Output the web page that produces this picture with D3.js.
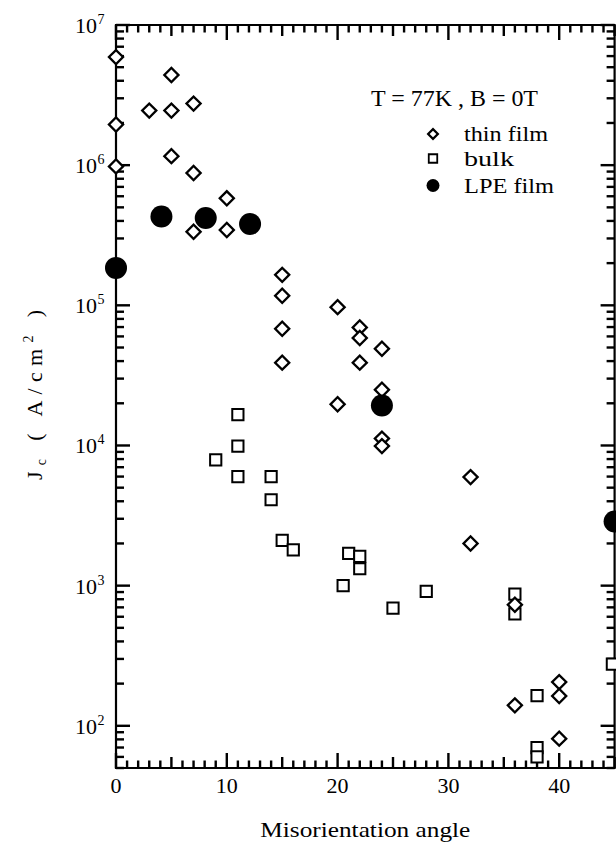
<!DOCTYPE html>
<html><head><meta charset="utf-8">
<script src="https://cdn.jsdelivr.net/npm/d3@7"></script>
<style>
html,body{margin:0;padding:0;background:#fff;}
svg{display:block;}
</style></head>
<body>
<script>
// ---- data (misorientation angle in degrees, Jc in A/cm^2) ----
const thinFilmAngle = [0, 0, 0, 3, 5, 5, 7, 5, 7, 7, 10, 10, 15, 15, 15, 15, 20, 22, 22, 22, 24, 24, 20, 24, 24, 32, 32, 36, 36, 40, 40, 40];
const thinFilmJc    = [5.9e6, 1.95e6, 9.8e5, 2.45e6, 4.4e6, 2.45e6, 2.75e6, 1.16e6, 8.8e5, 3.35e5, 5.8e5, 3.45e5, 1.65e5, 1.17e5, 6.8e4, 3.9e4, 9.7e4, 6.95e4, 5.85e4, 3.9e4, 4.9e4, 2.5e4, 1.97e4, 1.12e4, 9.9e3, 5.95e3, 2.0e3, 7.3e2, 1.4e2, 2.05e2, 1.63e2, 8.1e1];
const bulkAngle = [11, 11, 9, 11, 14, 14, 15, 16, 21, 22, 22, 20.5, 25, 28, 36, 36, 38, 38, 38, 44.8];
const bulkJc    = [1.66e4, 9.9e3, 7.9e3, 6.0e3, 6.0e3, 4.1e3, 2.1e3, 1.8e3, 1.7e3, 1.62e3, 1.32e3, 1.0e3, 6.9e2, 9.1e2, 8.7e2, 6.3e2, 1.64e2, 7.0e1, 6.0e1, 2.75e2];
const lpeAngle = [0, 4.1, 8.1, 12.1, 24, 45];
const lpeJc    = [1.85e5, 4.3e5, 4.2e5, 3.8e5, 1.93e4, 2.87e3];
const xTickValues = [0, 10, 20, 30, 40];
const yDecades = [2, 3, 4, 5, 6, 7];
const legendLabels = ["thin film", "bulk", "LPE film"];
const conditionText = "T = 77K , B = 0T";
const xTitle = "Misorientation angle";

const FONT = "'Liberation Serif', 'Times New Roman', Times, serif";
const W = 616, H = 845;
const L = 116, R = 614.6, T = 25, B = 768;
const svg = d3.select("body").append("svg").attr("width", W).attr("height", H)
  .attr("font-family", FONT);

const x = d3.scaleLinear().domain([0, 45]).range([L, R]);
const y = d3.scaleLog().domain([50, 1e7]).range([B, T]);

// frame
const fp = d3.path();
fp.moveTo(L, T); fp.lineTo(R, T); fp.lineTo(R, B); fp.lineTo(L, B); fp.closePath();
svg.append("path").attr("d", fp.toString()).style("fill", "none")
  .attr("stroke", "#000").attr("stroke-width", 2.2);

// tick sets with lengths
const xTicks = d3.range(0, 46, 1).map(v => ({v, len: v % 10 === 0 ? 15 : (v % 5 === 0 ? 11 : 7.5)}));
const yTicks = [];
for (let e = 1; e <= 7; e++) for (let m = 1; m <= 9; m++) {
  const v = m * Math.pow(10, e);
  if (v >= 50 && v <= 1e7) yTicks.push({v, len: m === 1 ? 14 : 8});
}

// ticks as small filled rectangles, inward on all four sides
const tw = 2.4;
const tg = svg.append("g");
tg.selectAll("rect.xb").data(xTicks).join("rect").attr("class", "xb")
  .attr("x", d => x(d.v) - tw / 2).attr("y", d => B - d.len).attr("width", tw).attr("height", d => d.len)
  .style("fill", "#000");
tg.selectAll("rect.xt").data(xTicks).join("rect").attr("class", "xt")
  .attr("x", d => x(d.v) - tw / 2).attr("y", T).attr("width", tw).attr("height", d => d.len)
  .style("fill", "#000");
tg.selectAll("rect.yl").data(yTicks).join("rect").attr("class", "yl")
  .attr("x", L).attr("y", d => y(d.v) - tw / 2).attr("width", d => d.len).attr("height", tw)
  .style("fill", "#000");
tg.selectAll("rect.yr").data(yTicks).join("rect").attr("class", "yr")
  .attr("x", d => R - d.len).attr("y", d => y(d.v) - tw / 2).attr("width", d => d.len).attr("height", tw)
  .style("fill", "#000");

// x tick labels
svg.append("g").selectAll("text").data(xTickValues).join("text")
  .attr("x", d => x(d)).attr("y", 793).attr("text-anchor", "middle").attr("fill", "#000")
  .attr("font-size", 22).attr("font-family", FONT).text(d => d);

// y tick labels 10^n
const yl = svg.append("g").selectAll("g").data(yDecades).join("g")
  .attr("transform", d => `translate(97,${y(Math.pow(10, d)) + 8})`);
yl.append("text").attr("text-anchor", "end").attr("font-size", 22).attr("fill", "#000").attr("font-family", FONT).text("10");
yl.append("text").attr("x", 0.5).attr("y", -9).attr("font-size", 14).attr("fill", "#000").attr("font-family", FONT).text(d => d);

// axis titles
svg.append("text").attr("x", (L + R) / 2).attr("y", 837).attr("text-anchor", "middle")
  .attr("font-size", 22).attr("font-family", FONT).attr("fill", "#000")
  .attr("textLength", 210).attr("lengthAdjust", "spacingAndGlyphs").text(xTitle);

const yt = svg.append("text").attr("transform", "translate(42,395) rotate(-90)")
  .attr("text-anchor", "middle").attr("font-size", 22).attr("font-family", FONT).attr("fill", "#000")
  .attr("textLength", 170).attr("lengthAdjust", "spacing");
yt.append("tspan").text("J");
yt.append("tspan").attr("font-size", 14).attr("dy", 4).text("c");
yt.append("tspan").attr("dy", -4).text(" ( A/cm");
yt.append("tspan").attr("font-size", 14).attr("dy", -9).text("2");
yt.append("tspan").attr("dy", 9).text(" )");

// condition text and legend
svg.append("text").attr("x", 371).attr("y", 106).attr("font-size", 23).attr("font-family", FONT).attr("fill", "#000")
  .attr("textLength", 167).attr("lengthAdjust", "spacingAndGlyphs").text(conditionText);

const sq = d3.symbol().type(d3.symbolSquare);
const legY = [134, 158.5, 185.5];
const legG = svg.append("g");
legG.append("path").attr("d", sq.size(48)()).attr("transform", `translate(433,${legY[0]}) rotate(45)`)
  .attr("fill", "#fff").attr("stroke", "#000").attr("stroke-width", 2.2);
legG.append("path").attr("d", sq.size(72)()).attr("transform", `translate(433,${legY[1]})`)
  .attr("fill", "#fff").attr("stroke", "#000").attr("stroke-width", 1.8);
legG.append("circle").attr("cx", 433).attr("cy", legY[2]).attr("r", 6.5).attr("fill", "#000");
legG.selectAll("text").data(legendLabels).join("text")
  .attr("x", 464).attr("y", (d, i) => legY[i] + 7).attr("font-size", 22).attr("font-family", FONT).attr("fill", "#000")
  .attr("textLength", (d, i) => [84, 50, 90][i]).attr("lengthAdjust", "spacingAndGlyphs")
  .text(d => d);

// data points
const bulk = bulkAngle.map((a, i) => [a, bulkJc[i]]);
const thin = thinFilmAngle.map((a, i) => [a, thinFilmJc[i]]);
const lpe = lpeAngle.map((a, i) => [a, lpeJc[i]]);

svg.append("g").selectAll("path").data(bulk).join("path")
  .attr("d", sq.size(126)()).attr("transform", d => `translate(${x(d[0])},${y(d[1])})`)
  .attr("fill", "#fff").attr("stroke", "#000").attr("stroke-width", 2);
svg.append("g").selectAll("path").data(thin).join("path")
  .attr("d", sq.size(100)()).attr("transform", d => `translate(${x(d[0])},${y(d[1])}) rotate(45)`)
  .attr("fill", "#fff").attr("stroke", "#000").attr("stroke-width", 2.3);
svg.append("g").selectAll("circle").data(lpe).join("circle")
  .attr("cx", d => x(d[0])).attr("cy", d => y(d[1])).attr("r", 11).attr("fill", "#000");
</script>
</body></html>
